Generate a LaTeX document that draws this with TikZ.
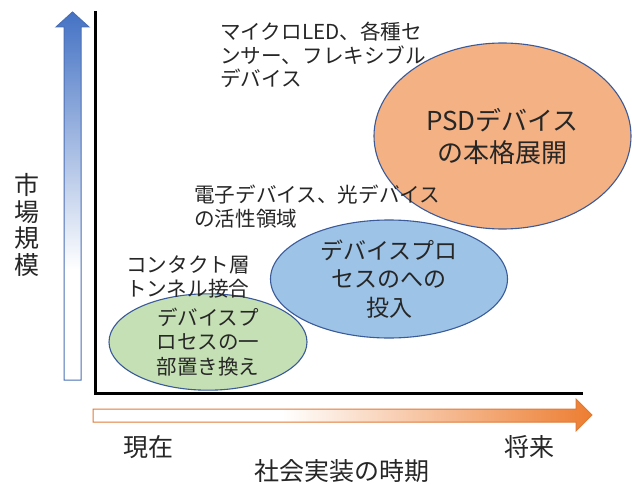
\documentclass[tikz,border=0pt]{standalone}
\usepackage{fontspec}
\setmainfont{Noto Sans CJK JP}
\usetikzlibrary{shapes.geometric}
\definecolor{blueA}{HTML}{4472C4}
\definecolor{blueEdge}{HTML}{4A6FB5}
\definecolor{orangeA}{HTML}{ED7D31}
\definecolor{orangeEdge}{HTML}{E07A35}
\definecolor{greenFill}{HTML}{C5E0B4}
\definecolor{blueFill}{HTML}{9DC3E6}
\definecolor{orangeFill}{HTML}{F4B183}
\definecolor{ellEdge}{HTML}{3A5A9A}
\definecolor{txt}{HTML}{262626}
\pgfdeclareverticalshading{bluefade}{100bp}{color(0bp)=(white); color(40bp)=(white); color(75bp)=(blueA); color(100bp)=(blueA)}
\pgfdeclarehorizontalshading{orangefade}{100bp}{color(0bp)=(white); color(44bp)=(white); color(75bp)=(orangeA); color(100bp)=(orangeA)}
\begin{document}
\begin{tikzpicture}[x=1pt,y=-1pt,
  bubble/.style={ellipse, draw=ellEdge, line width=1.1pt, inner sep=0pt, align=center, text=txt},
  lbl/.style={inner sep=0pt, align=left, anchor=west, text=txt, font=\fontsize{20.6}{23.5}\selectfont},
  axlbl/.style={inner sep=0pt, align=center, text=txt, font=\fontsize{25}{27}\selectfont}]
\useasboundingbox (0,0) rectangle (632,484);
% axes
\draw[line width=3pt, line join=miter] (95,11) -- (95,393) -- (583,393);
% vertical arrow
\shade[shading=bluefade, draw=blueEdge, line width=1pt]
  (64,380) -- (64,27) -- (56,27) -- (72.5,12) -- (89,27) -- (81,27) -- (81,380) -- cycle;
% horizontal arrow
\shade[shading=orangefade, draw=orangeEdge, line width=1pt]
  (93,409) -- (576,409) -- (576,399) -- (592,415) -- (576,431) -- (576,422) -- (93,422) -- cycle;
% ellipses
\node[bubble, fill=greenFill, minimum width=198pt, minimum height=96pt,
      font=\fontsize{20.5}{24.5}\selectfont] (green) at (208,342)
  {デバイスプ\\ロセスの一\\部置き換え};
\node[bubble, fill=blueFill, minimum width=237pt, minimum height=118pt,
      font=\fontsize{23}{28.5}\selectfont] (blue) at (389,279)
  {デバイスプロ\\セスのへの\\投入};
\node[bubble, fill=orangeFill, minimum width=257pt, minimum height=186pt,
      font=\fontsize{26}{32}\selectfont] (orange) at (502.5,136)
  {PSDデバイス\\の本格展開};
% labels
\node[lbl] (l1) at (220,55) {マイクロLED、各種セ\\ンサー、フレキシブル\\デバイス};
\node[lbl] (l2) at (194,206.5) {電子デバイス、光デバイス\\の活性領域};
\node[lbl] (l3) at (126,277) {コンタクト層\\トンネル接合};
% axis labels
\node[axlbl, font=\fontsize{25}{26.7}\selectfont] (yl) at (27,225) {市\\場\\規\\模};
\node[axlbl] (now) at (148,447) {現在};
\node[axlbl] (fut) at (529.5,447) {将来};
\node[axlbl] (xl) at (341.5,471) {社会実装の時期};
\end{tikzpicture}
\end{document}
